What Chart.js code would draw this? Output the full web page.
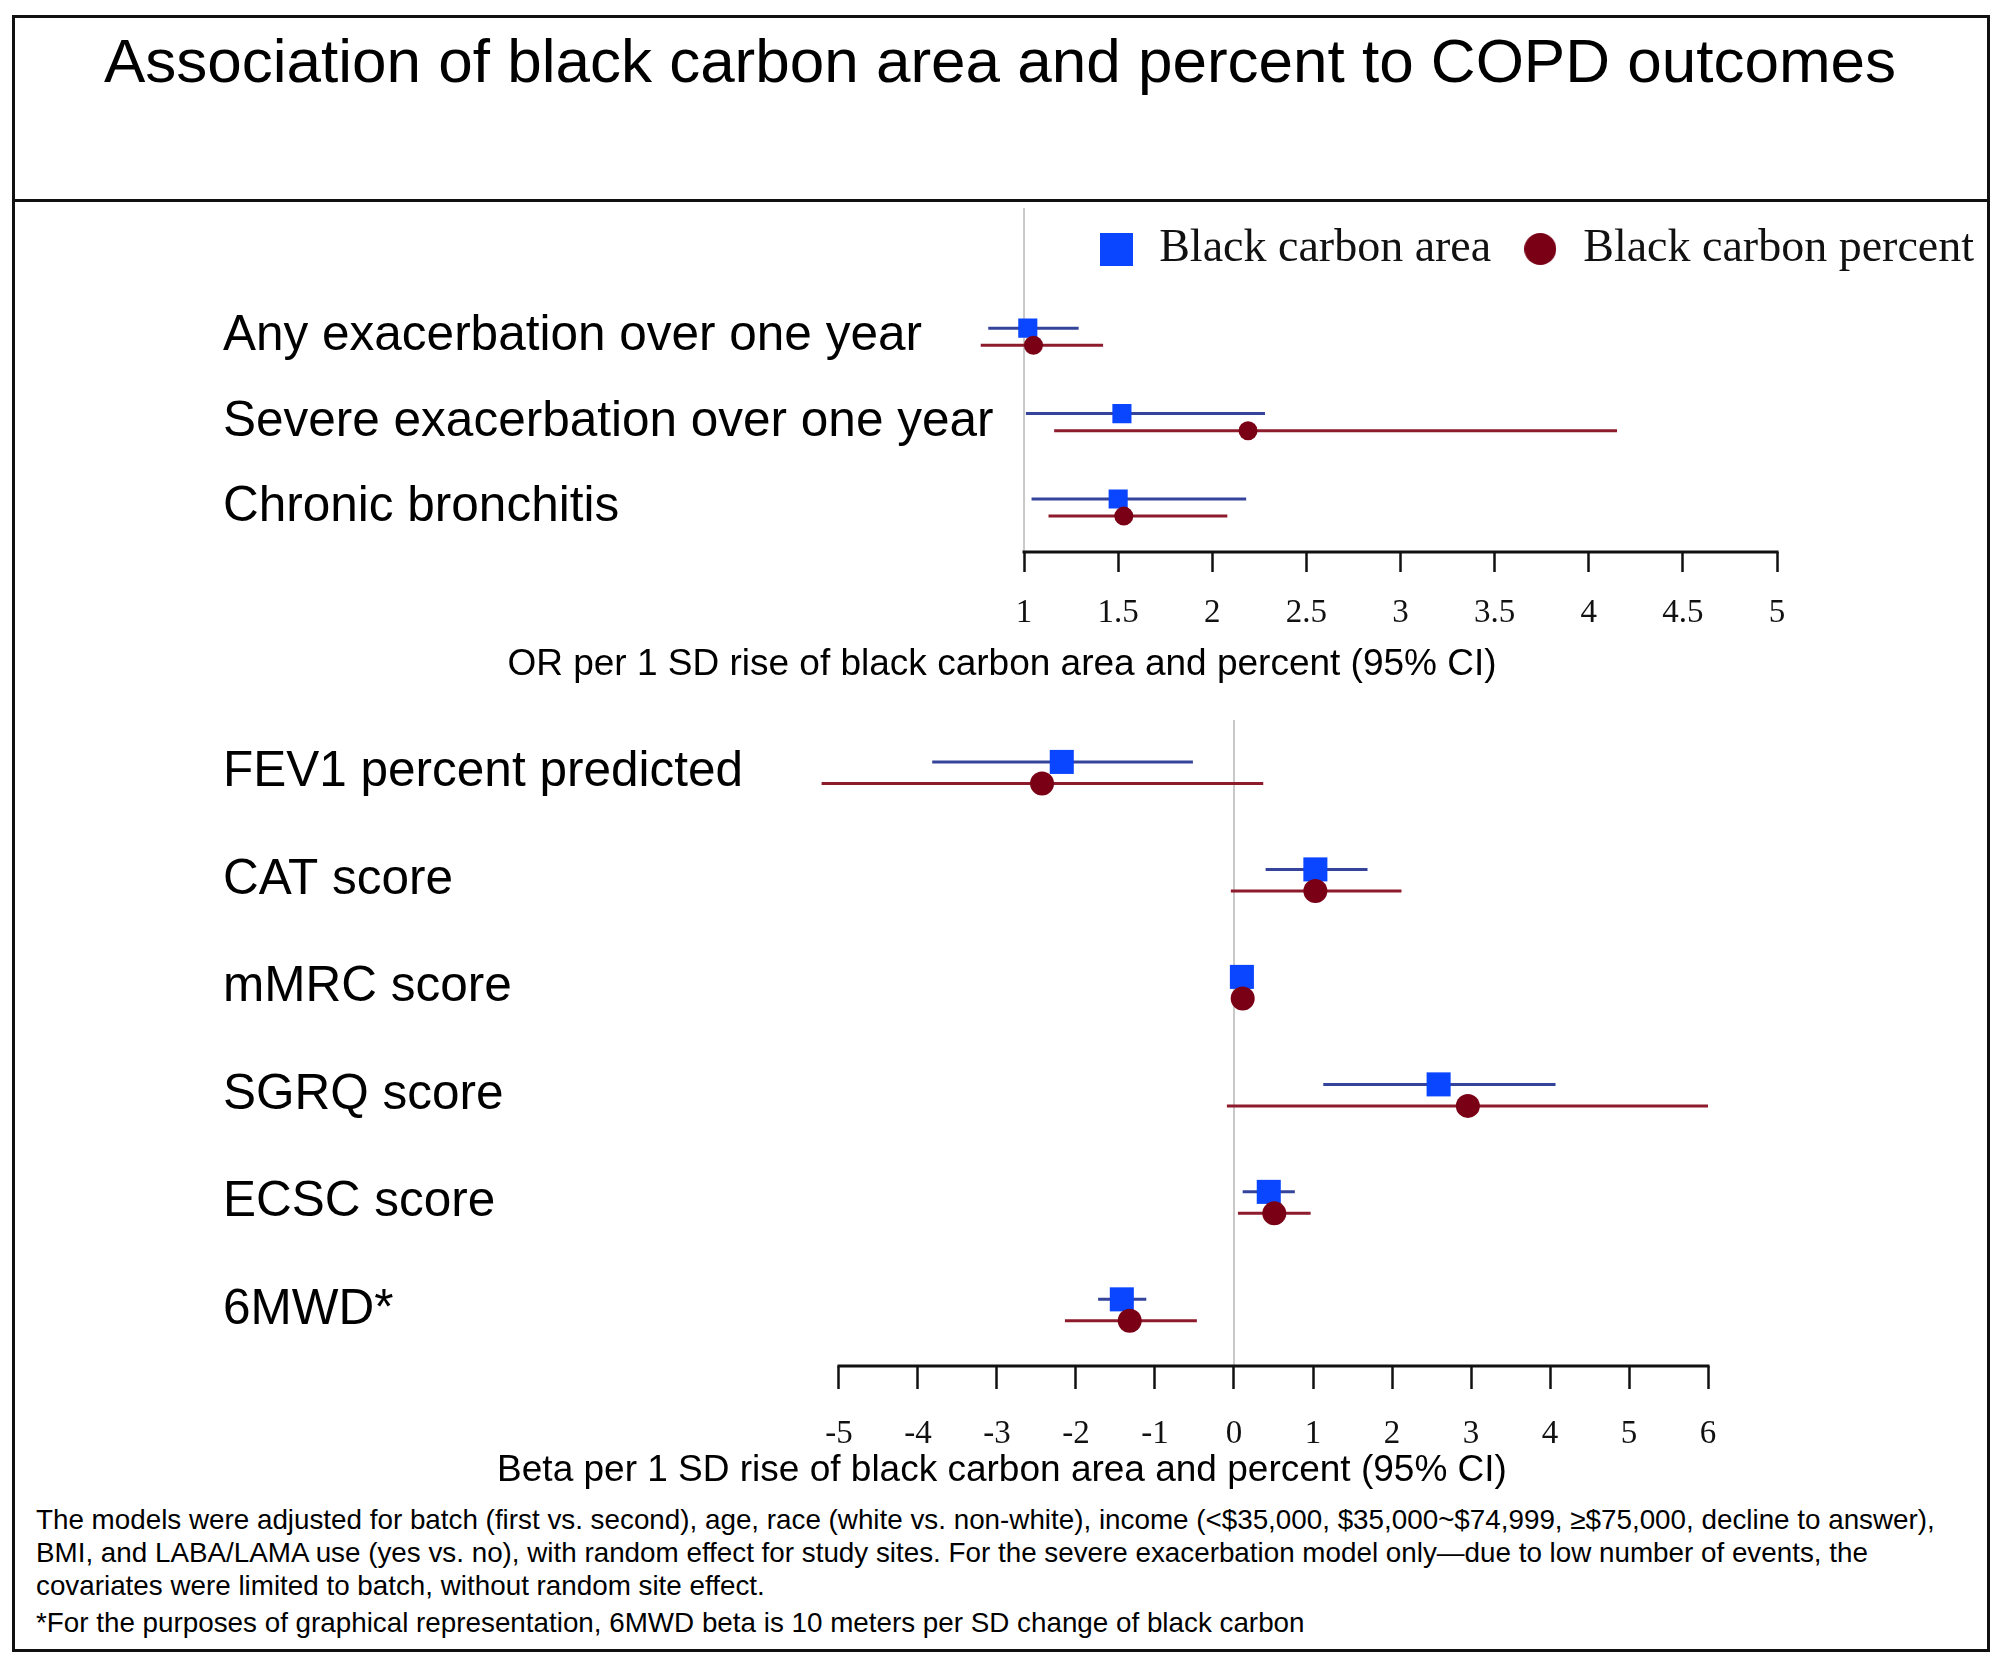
<!DOCTYPE html>
<html>
<head>
<meta charset="utf-8">
<script src="https://cdn.jsdelivr.net/npm/chart.js@4.4.1/dist/chart.umd.min.js"></script>
<style>
  body { margin: 0; background: #fff; width: 2008px; height: 1670px; position: relative; overflow: hidden; font-family: 'Liberation Sans', Arial, sans-serif; color: #000; }
  .frame { position: absolute; left: 12px; top: 15px; width: 1972px; height: 1631px; border: 3px solid #111; }
  .sep { position: absolute; left: 12px; top: 199px; width: 1978px; height: 3px; background: #111; }
  .title { position: absolute; left: 0; width: 2000px; top: 30px; text-align: center; font-size: 62px; line-height: 62px; }
  canvas { position: absolute; left: 0; }
  .axt { position: absolute; left: 0; width: 2004px; text-align: center; font-size: 37px; line-height: 37px; }
  .note { position: absolute; left: 36px; top: 1503px; font-size: 27.8px; line-height: 33px; white-space: nowrap; }
  .note .last { margin-top: 4px; }
</style>
</head>
<body>
<div class="frame"></div>
<div class="sep"></div>
<div class="title">Association of black carbon area and percent to COPD outcomes</div>
<canvas id="chart-or" width="2008" height="480" style="top:180px"></canvas>
<canvas id="chart-beta" width="2008" height="770" style="top:700px"></canvas>
<div class="axt" style="top:644px">OR per 1 SD rise of black carbon area and percent (95% CI)</div>
<div class="axt" style="top:1450px">Beta per 1 SD rise of black carbon area and percent (95% CI)</div>
<div class="note">
The models were adjusted for batch (first vs. second), age, race (white vs. non-white), income (&lt;$35,000, $35,000~$74,999, ≥$75,000, decline to answer),<br>
BMI, and LABA/LAMA use (yes vs. no), with random effect for study sites. For the severe exacerbation model only—due to low number of events, the<br>
covariates were limited to batch, without random site effect.
<div class="last">*For the purposes of graphical representation, 6MWD beta is 10 meters per SD change of black carbon</div>
</div>
<script>
// odds ratios (top panel)
const orLabels = ['Any exacerbation over one year', 'Severe exacerbation over one year', 'Chronic bronchitis'];
const orTicks = [1, 1.5, 2, 2.5, 3, 3.5, 4, 4.5, 5];
const areaOR = [1.02, 1.52, 1.50];
const areaORLow = [0.81, 1.01, 1.04];
const areaORHigh = [1.29, 2.28, 2.18];
const pctOR = [1.05, 2.19, 1.53];
const pctORLow = [0.77, 1.16, 1.13];
const pctORHigh = [1.42, 4.15, 2.08];

// betas (bottom panel)
const betaLabels = ['FEV1 percent predicted', 'CAT score', 'mMRC score', 'SGRQ score', 'ECSC score', '6MWD*'];
const betaTicks = [-5, -4, -3, -2, -1, 0, 1, 2, 3, 4, 5, 6];
const areaBeta = [-2.18, 1.03, 0.10, 2.59, 0.44, -1.42];
const areaBetaLow = [-3.82, 0.40, 0.06, 1.13, 0.11, -1.72];
const areaBetaHigh = [-0.52, 1.69, 0.15, 4.07, 0.77, -1.11];
const pctBeta = [-2.43, 1.03, 0.11, 2.96, 0.51, -1.32];
const pctBetaLow = [-5.22, -0.04, 0.06, -0.09, 0.05, -2.14];
const pctBetaHigh = [0.37, 2.12, 0.16, 6.00, 0.97, -0.47];

const blue = '#0a45ff', blueLine = '#34449a';
const red = '#7a0016', redLine = '#8e1b2c';

Chart.defaults.font.family = "'Liberation Sans', Arial, sans-serif";
Chart.defaults.color = '#111';

function ciLine(lo, hi, off) {
  return lo.flatMap((v, i) => [{x: v, y: i + off}, {x: hi[i], y: i + off}, {x: v, y: null}]);
}
function marks(vals, off) {
  return vals.map((v, i) => ({x: v, y: i + off}));
}
// legend symbol with its own size (square and circle of about equal size)
function legendSymbol(style, color, size) {
  const c = document.createElement('canvas');
  c.width = c.height = size;
  const g = c.getContext('2d');
  g.fillStyle = color;
  if (style === 'rect') {
    g.fillRect(0, 0, size, size);
  } else {
    g.beginPath();
    g.arc(size / 2, size / 2, size / 2, 0, Math.PI * 2);
    g.fill();
  }
  return c;
}

// axis line only between first and last tick, plus grey reference line
const axisSegment = {
  id: 'axisSegment',
  beforeDatasetsDraw(chart, args, opts) {
    const {ctx, chartArea, scales: {x}} = chart;
    const px = x.getPixelForValue(opts.ref);
    ctx.save();
    ctx.strokeStyle = '#c9c9c9';
    ctx.lineWidth = 2;
    ctx.beginPath();
    ctx.moveTo(px, chartArea.top - opts.refExtend);
    ctx.lineTo(px, chartArea.bottom);
    ctx.stroke();
    ctx.restore();
  },
  afterDraw(chart, args, opts) {
    const {ctx, chartArea, scales: {x}} = chart;
    ctx.save();
    ctx.strokeStyle = '#111';
    ctx.lineWidth = 3;
    ctx.beginPath();
    ctx.moveTo(x.getPixelForValue(opts.from) - 1.5, chartArea.bottom);
    ctx.lineTo(x.getPixelForValue(opts.to) + 1.5, chartArea.bottom);
    ctx.stroke();
    ctx.restore();
  }
};

function forest(id, o) {
  return new Chart(document.getElementById(id), {
    type: 'scatter',
    data: {
      datasets: [
        {label: 'Black carbon area', data: marks(o.area, -0.1), pointStyle: 'rect', pointRadius: o.sq,
         backgroundColor: blue, borderColor: blue, pointBorderWidth: 0, borderWidth: 0, order: 1},
        {label: 'Black carbon percent', data: marks(o.pct, 0.1), pointStyle: 'circle', pointRadius: o.dot,
         backgroundColor: red, borderColor: red, pointBorderWidth: 0, borderWidth: 0, order: 0},
        {label: 'area CI', data: ciLine(o.areaLow, o.areaHigh, -0.1), showLine: true, spanGaps: false,
         pointRadius: 0, borderColor: blueLine, borderWidth: 3, order: 3},
        {label: 'percent CI', data: ciLine(o.pctLow, o.pctHigh, 0.1), showLine: true, spanGaps: false,
         pointRadius: 0, borderColor: redLine, borderWidth: 3, order: 2}
      ]
    },
    options: {
      responsive: false,
      animation: false,
      devicePixelRatio: 1,
      events: [],
      layout: {padding: o.padding},
      scales: {
        x: {
          type: 'linear', min: o.xMin, max: o.xMax,
          afterBuildTicks: (s) => { s.ticks = o.ticks.map(v => ({value: v})); },
          afterFit: (s) => { s.height = o.axisHeight; s.paddingLeft = 0; s.paddingRight = 0; },
          grid: {drawOnChartArea: false, drawTicks: true, tickLength: o.tickLen, tickColor: '#111', tickWidth: 2.5},
          border: {display: false},
          ticks: {autoSkip: false, maxRotation: 0, padding: o.tickPad, color: '#111',
                  font: {family: "'Liberation Serif', 'Times New Roman', serif", size: 33},
                  callback: (v) => String(v)}
        },
        y: {
          type: 'linear', reverse: true, min: o.yMin, max: o.yMax,
          afterBuildTicks: (s) => { s.ticks = o.labels.map((_, i) => ({value: i})); },
          afterFit: (s) => { s.width = 0; s.paddingTop = 0; s.paddingBottom = 0; },
          grid: {display: false},
          border: {display: false},
          ticks: {autoSkip: false, mirror: true, padding: 0, color: '#000', font: {size: 49.5},
                  callback: (v) => o.labels[v]}
        }
      },
      plugins: {
        tooltip: {enabled: false},
        axisSegment: {from: o.ticks[0], to: o.ticks[o.ticks.length - 1], ref: o.ref, refExtend: o.refExtend},
        legend: {
          display: o.legend, position: 'top', align: 'end',
          labels: {
            usePointStyle: true, boxWidth: 40, padding: 29, color: '#111',
            font: {family: "'Liberation Serif', 'Times New Roman', serif", size: 46},
            generateLabels: (chart) => Chart.defaults.plugins.legend.labels.generateLabels(chart).map(item => {
              const ds = chart.data.datasets[item.datasetIndex];
              item.pointStyle = legendSymbol(ds.pointStyle, ds.backgroundColor, ds.pointStyle === 'rect' ? 33 : 32);
              return item;
            }),
            filter: (item) => item.datasetIndex < 2,
            sort: (a, b) => a.datasetIndex - b.datasetIndex
          }
        }
      }
    },
    plugins: [axisSegment]
  });
}

forest('chart-or', {
  labels: orLabels, ticks: orTicks,
  area: areaOR, areaLow: areaORLow, areaHigh: areaORHigh,
  pct: pctOR, pctLow: pctORLow, pctHigh: pctORHigh,
  xMin: -3.255, xMax: 6.155, yMin: -0.64, yMax: 2.52,
  axisHeight: 80, tickLen: 20, tickPad: 22,
  padding: {top: 17, left: 223, right: 5, bottom: 28},
  sq: 13.5, dot: 9.5, ref: 1, refExtend: 74, legend: true
});

forest('chart-beta', {
  labels: betaLabels, ticks: betaTicks,
  area: areaBeta, areaLow: areaBetaLow, areaHigh: areaBetaHigh,
  pct: pctBeta, pctLow: pctBetaLow, pctHigh: pctBetaHigh,
  xMin: -12.797, xMax: 9.506, yMin: -0.49, yMax: 5.52,
  axisHeight: 90, tickLen: 23, tickPad: 26,
  padding: {top: 20, left: 223, right: 23, bottom: 14},
  sq: 17, dot: 12, ref: 0, refExtend: 0, legend: false
});
</script>
</body>
</html>
